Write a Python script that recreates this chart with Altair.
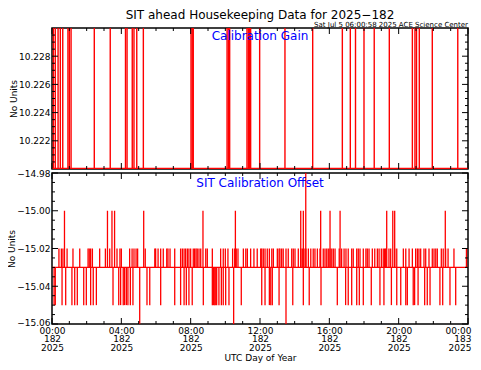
import altair as alt
import pandas as pd

FONT = "DejaVu Sans"
RED = "#ff0000"
BLUE = "#0000ff"

# ---------------- data (hours UTC of day 2025-182) ----------------
gain_spike_hours = [0.08, 0.19, 0.35, 0.48, 0.62, 0.92, 1.00, 1.10, 2.44, 3.36, 4.24, 4.33,
                    4.63, 4.73, 4.89, 5.27, 8.02, 8.09, 8.15, 10.10, 10.18, 10.25, 11.25,
                    11.33, 11.39, 11.46, 11.98, 13.44, 15.04, 16.75, 17.21, 17.51, 18.00,
                    18.59, 19.46, 20.79, 20.94, 21.03, 21.19, 21.94, 23.41]
GAIN_BASE = 10.22003
GAIN_HIGH = 10.2306

OFFSET_BASE = -15.03
off_hours_1502 = [0.40, 0.54, 0.63, 0.87, 1.21, 1.60, 2.08, 2.15, 2.23, 2.33, 2.75, 3.08, 3.33,
                  3.75, 3.92, 4.00, 4.48, 4.62, 4.73, 4.85, 4.94, 5.38, 5.93, 5.98, 6.12, 6.27,
                  6.42, 6.62, 6.69, 6.81, 7.08, 7.42, 7.52, 7.62, 7.71, 7.81, 7.90, 8.00, 8.15,
                  8.23, 8.31, 8.38, 8.48, 8.58, 8.87, 8.96, 9.25, 9.73, 9.88, 10.00, 10.15,
                  10.42, 10.54, 10.63, 10.73, 11.04, 11.18, 11.27, 11.46, 11.65, 11.84, 12.04,
                  12.10, 12.19, 12.29, 12.42, 12.54, 12.68, 12.77, 13.00, 13.10, 13.15, 13.25,
                  13.34, 13.50, 13.63, 13.83, 13.92, 14.02, 14.21, 14.35, 14.44, 14.54, 14.65,
                  14.79, 14.93, 15.07, 15.17, 15.31, 15.46, 15.65, 15.75, 15.85, 15.94, 16.04,
                  16.14, 16.23, 16.33, 16.57, 16.71, 16.85, 16.96, 17.09, 17.29, 17.38, 17.58,
                  17.67, 17.77, 17.96, 18.11, 18.19, 18.29, 18.48, 18.62, 18.77, 18.87, 19.00,
                  19.11, 19.19, 19.25, 19.44, 19.54, 19.77, 19.89, 20.27, 20.41, 20.60, 20.79,
                  20.98, 21.08, 21.17, 21.27, 21.46, 21.56, 21.75, 21.94, 22.04, 22.14, 22.23,
                  22.46, 22.57, 22.71, 22.85, 23.19, 23.91]
off_hours_1500 = [0.72, 3.20, 3.46, 3.61, 5.29, 8.71, 10.58, 14.35, 14.50, 15.50, 16.04, 16.62,
                  19.31, 19.66, 19.77, 22.69]
off_hours_1498 = [14.64]
off_hours_1505 = [0.12, 0.19, 0.58, 0.79, 1.15, 1.31, 1.46, 1.83, 1.98, 2.23, 2.38, 2.56, 3.52,
                  3.85, 3.96, 4.11, 4.19, 4.29, 4.38, 4.52, 4.67, 5.48, 5.64, 6.27, 7.08, 7.42,
                  7.62, 7.75, 7.90, 8.09, 8.73, 9.25, 9.31, 9.36, 9.42, 9.50, 9.63, 9.77, 9.88,
                  10.02, 10.21, 10.92, 12.10, 12.29, 12.54, 12.62, 12.71, 13.10, 13.89, 14.50,
                  14.84, 15.52, 16.46, 16.94, 17.09, 17.29, 17.58, 17.73, 17.96, 18.42, 18.92,
                  19.15, 19.58, 19.89, 20.12, 20.41, 20.50, 20.84, 20.92, 21.12, 21.50, 21.65,
                  21.81, 22.38, 22.54, 22.96, 23.29]
off_hours_1506 = [5.06, 10.48, 13.50]

x_major = [0, 4, 8, 12, 16, 20, 24]
x_minor = [1, 2, 3, 5, 6, 7, 9, 10, 11, 13, 14, 15, 17, 18, 19, 21, 22, 23]
gain_major = [10.222, 10.224, 10.226, 10.228]
gain_minor = [10.2205, 10.221, 10.2215, 10.2225, 10.223, 10.2235, 10.2245, 10.225, 10.2255,
              10.2265, 10.227, 10.2275, 10.2285, 10.229, 10.2295]
off_major = [-15.06, -15.04, -15.02, -15.00, -14.98]
off_minor = [-15.055, -15.05, -15.045, -15.035, -15.03, -15.025, -15.015, -15.01, -15.005,
             -14.995, -14.99, -14.985]

TITLE = "SIT ahead Housekeeping Data for 2025\u2212182"
STAMP = "Sat Jul  5 06:00:58 2025 ACE Science Center"

# ---------------- layout ----------------
W = 416
H1 = 141
H2 = 151

xs = alt.Scale(domain=[0, 24], nice=False, zero=False)
gs = alt.Scale(domain=[10.220, 10.230], nice=False, zero=False)
os_ = alt.Scale(domain=[-15.06, -14.98], nice=False, zero=False)


def y_axis(values, fmt, offset=None):
    kw = {}
    if offset is not None:
        kw["labelOffset"] = offset
    return alt.Axis(values=values, format=fmt, title="No Units", ticks=False, domain=False,
                    grid=False, labelFont=FONT, labelFontSize=9, labelColor="black",
                    labelPadding=2, titleFont=FONT, titleFontSize=9, titleColor="black",
                    titleFontWeight="normal", titlePadding=0, **kw)


x_label_expr = ("[(datum.value % 24 < 10 ? '0' : '') + (datum.value % 24) + ':00', "
                "datum.value >= 24 ? '183' : '182', '2025']")
x_axis_bottom = alt.Axis(
    values=x_major, labelExpr=x_label_expr, ticks=False, domain=False, grid=False,
    labelFlush=False, labelOverlap=False, labelPadding=2, labelLineHeight=8.5,
    labelAlign={"condition": {"test": "datum.value >= 24", "value": "right"}, "value": "center"},
    labelOffset={"condition": {"test": "datum.value >= 24", "value": 3}, "value": 0},
    labelFont=FONT, labelFontSize=9, labelColor="black",
    title="UTC Day of Year", titleFont=FONT, titleFontSize=9, titleColor="black",
    titleFontWeight="normal", titlePadding=1)


def tick_layers(ys, xaxis, yaxis, H, ymaj, ymin):
    layers = []
    for vals, L in ((x_major, 6), (x_minor, 3)):
        base = alt.Chart(pd.DataFrame({"t": vals})).mark_rule(color="black", strokeWidth=1)
        layers.append(base.encode(x=alt.X("t:Q", scale=xs, axis=xaxis),
                                  y=alt.value(H), y2=alt.value(H - L)))
        layers.append(base.encode(x=alt.X("t:Q", scale=xs, axis=xaxis),
                                  y=alt.value(0), y2=alt.value(L)))
    for vals, L in ((ymaj, 6), (ymin, 3)):
        base = alt.Chart(pd.DataFrame({"v": vals})).mark_rule(color="black", strokeWidth=1)
        layers.append(base.encode(y=alt.Y("v:Q", scale=ys, axis=yaxis),
                                  x=alt.value(0), x2=alt.value(L)))
        layers.append(base.encode(y=alt.Y("v:Q", scale=ys, axis=yaxis),
                                  x=alt.value(W), x2=alt.value(W - L)))
    return layers


# ---------------- top panel ----------------
gy_axis = y_axis(gain_major, ".3f")
gain_df = pd.DataFrame({"t": gain_spike_hours, "v": GAIN_HIGH, "b": GAIN_BASE})
gain_spikes = alt.Chart(gain_df).mark_rule(color=RED, strokeWidth=1.4, clip=True).encode(
    x=alt.X("t:Q", scale=xs, axis=None),
    y=alt.Y("v:Q", scale=gs, axis=gy_axis),
    y2="b:Q",
)
gain_base = alt.Chart(pd.DataFrame({"t": [0], "t1": [24], "v": [GAIN_BASE]})).mark_rule(
    color=RED, strokeWidth=1.6, clip=True).encode(
    x=alt.X("t:Q", scale=xs, axis=None), x2="t1:Q",
    y=alt.Y("v:Q", scale=gs, axis=gy_axis),
)
gain_label = alt.Chart(pd.DataFrame({"s": ["Calibration Gain"]})).mark_text(
    font=FONT, fontSize=12, color=BLUE, align="center", baseline="middle").encode(
    text="s:N", x=alt.value(W / 2), y=alt.value(8))
main_title = alt.Chart(pd.DataFrame({"s": [TITLE]})).mark_text(
    font=FONT, fontSize=12, color="black", align="center", baseline="alphabetic").encode(
    text="s:N", x=alt.value(W / 2), y=alt.value(-9))
stamp = alt.Chart(pd.DataFrame({"s": [STAMP]})).mark_text(
    font=FONT, fontSize=7, color="black", align="right", baseline="alphabetic").encode(
    text="s:N", x=alt.value(W), y=alt.value(-0.8))

top = alt.layer(gain_spikes, gain_base,
                *tick_layers(gs, None, gy_axis, H1, gain_major, gain_minor),
                gain_label, main_title, stamp).properties(width=W, height=H1)

# ---------------- bottom panel ----------------
oy_axis = y_axis(off_major, ".2f",
                 offset={"condition": {"test": "datum.value < -15.055", "value": -2},
                         "value": 0})
off_df = pd.concat([
    pd.DataFrame({"t": off_hours_1502, "v": -15.02}),
    pd.DataFrame({"t": off_hours_1500, "v": -15.00}),
    pd.DataFrame({"t": off_hours_1498, "v": -14.975}),
    pd.DataFrame({"t": off_hours_1505, "v": -15.05}),
    pd.DataFrame({"t": off_hours_1506, "v": -15.065}),
], ignore_index=True)
off_df["b"] = OFFSET_BASE

off_spikes = alt.Chart(off_df).mark_rule(color=RED, strokeWidth=1.3, clip=True).encode(
    x=alt.X("t:Q", scale=xs, axis=x_axis_bottom),
    y=alt.Y("v:Q", scale=os_, axis=oy_axis),
    y2="b:Q",
)
off_base = alt.Chart(pd.DataFrame({"t": [0], "t1": [24], "v": [OFFSET_BASE]})).mark_rule(
    color=RED, strokeWidth=1.4, clip=True).encode(
    x=alt.X("t:Q", scale=xs, axis=x_axis_bottom), x2="t1:Q",
    y=alt.Y("v:Q", scale=os_, axis=oy_axis),
)
off_label = alt.Chart(pd.DataFrame({"s": ["SIT Calibration Offset"]})).mark_text(
    font=FONT, fontSize=12, color=BLUE, align="center", baseline="middle").encode(
    text="s:N", x=alt.value(W / 2), y=alt.value(10))

bottom = alt.layer(off_base, off_spikes,
                   *tick_layers(os_, x_axis_bottom, oy_axis, H2, off_major, off_minor),
                   off_label).properties(width=W, height=H2)

chart = alt.vconcat(top, bottom, spacing=4, bounds="flush").properties(
    padding={"top": 0, "left": -2, "right": 0, "bottom": 0}, background="white"
).configure_view(stroke="black", strokeWidth=1.5)

chart.save("out.html", embed_options={"renderer": "svg", "actions": False})
